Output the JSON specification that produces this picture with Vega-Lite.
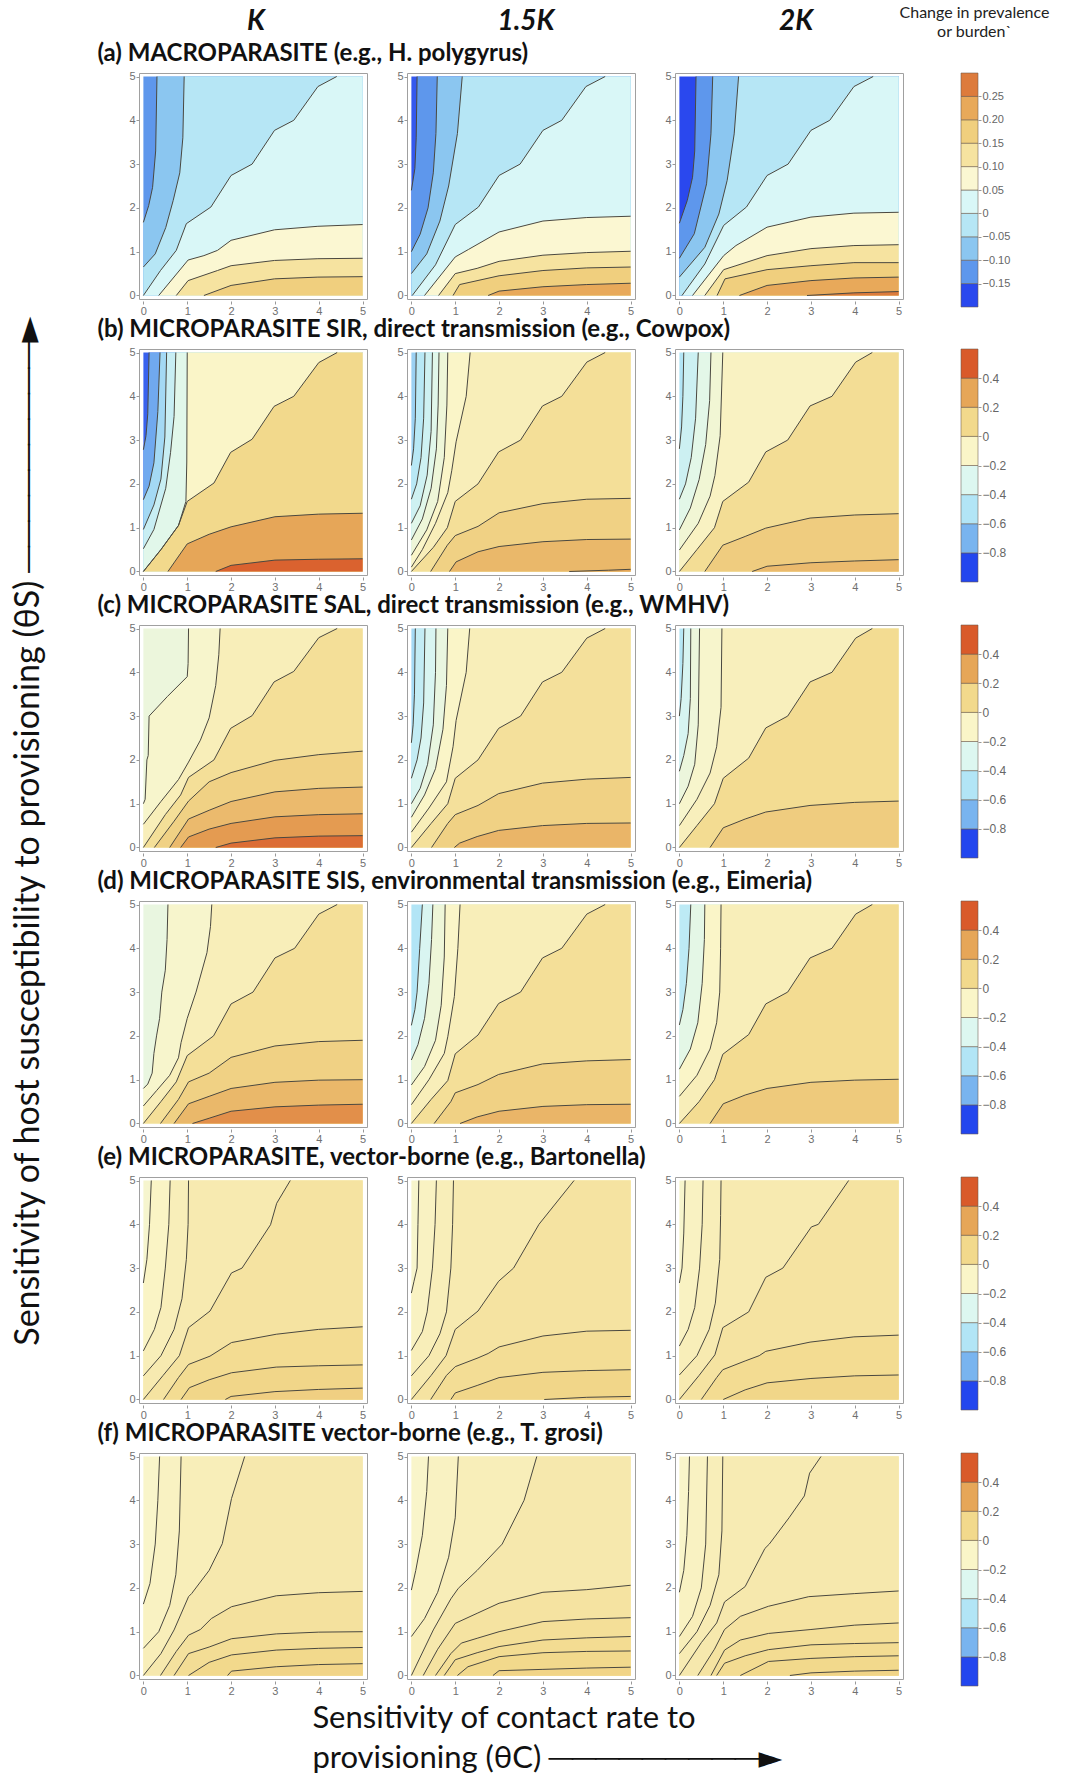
{
"$schema":"https://vega.github.io/schema/vega-lite/v6.json",
"padding":{"left":12,"top":4,"right":0,"bottom":0},
"background":"white",
"config":{
"view":{"stroke":"#a0a0a0","strokeWidth":1},
"font":"Lato",
"title":{"font":"Lato","fontSize":24,"fontWeight":"bold","anchor":"start","color":"#111","offset":0},
"axis":{"domain":false,"grid":false,"tickSize":3,"tickColor":"#999","tickWidth":1,"labelColor":"#707070","labelFont":"Liberation Sans Narrow, Liberation Sans","labelFontSize":11,"labelPadding":1}
},
"datasets":{
"hdr":[{"c":"K"},{"c":"1.5K"},{"c":"2K"}],
"leg":[
{"r":"a","lo":-0.2,"hi":-0.15,"v":-0.175},{"r":"a","lo":-0.15,"hi":-0.1,"v":-0.125},{"r":"a","lo":-0.1,"hi":-0.05,"v":-0.075},{"r":"a","lo":-0.05,"hi":0,"v":-0.025},{"r":"a","lo":0,"hi":0.05,"v":0.025},{"r":"a","lo":0.05,"hi":0.1,"v":0.075},{"r":"a","lo":0.1,"hi":0.15,"v":0.125},{"r":"a","lo":0.15,"hi":0.2,"v":0.175},{"r":"a","lo":0.2,"hi":0.25,"v":0.225},{"r":"a","lo":0.25,"hi":0.3,"v":0.275},
{"r":"b","lo":-1,"hi":-0.8,"v":-0.9},{"r":"b","lo":-0.8,"hi":-0.6,"v":-0.7},{"r":"b","lo":-0.6,"hi":-0.4,"v":-0.5},{"r":"b","lo":-0.4,"hi":-0.2,"v":-0.3},{"r":"b","lo":-0.2,"hi":0,"v":-0.1},{"r":"b","lo":0,"hi":0.2,"v":0.1},{"r":"b","lo":0.2,"hi":0.4,"v":0.3},{"r":"b","lo":0.4,"hi":0.6,"v":0.5}
],
"bands":[
{"i":"a10","r":"a","c":1,"v":-0.125},{"i":"a11","r":"a","c":1,"v":-0.075},{"i":"a12","r":"a","c":1,"v":-0.025},{"i":"a13","r":"a","c":1,"v":0.025},{"i":"a14","r":"a","c":1,"v":0.075},{"i":"a15","r":"a","c":1,"v":0.125},{"i":"a16","r":"a","c":1,"v":0.175},
{"i":"a20","r":"a","c":2,"v":-0.165},{"i":"a21","r":"a","c":2,"v":-0.125},{"i":"a22","r":"a","c":2,"v":-0.075},{"i":"a23","r":"a","c":2,"v":-0.025},{"i":"a24","r":"a","c":2,"v":0.025},{"i":"a25","r":"a","c":2,"v":0.075},{"i":"a26","r":"a","c":2,"v":0.125},{"i":"a27","r":"a","c":2,"v":0.175},{"i":"a28","r":"a","c":2,"v":0.225},
{"i":"a30","r":"a","c":3,"v":-0.175},{"i":"a31","r":"a","c":3,"v":-0.125},{"i":"a32","r":"a","c":3,"v":-0.075},{"i":"a33","r":"a","c":3,"v":-0.025},{"i":"a34","r":"a","c":3,"v":0.025},{"i":"a35","r":"a","c":3,"v":0.075},{"i":"a36","r":"a","c":3,"v":0.125},{"i":"a37","r":"a","c":3,"v":0.175},{"i":"a38","r":"a","c":3,"v":0.225},{"i":"a39","r":"a","c":3,"v":0.275},
{"i":"b10","r":"b","c":1,"v":-0.85},{"i":"b11","r":"b","c":1,"v":-0.72},{"i":"b12","r":"b","c":1,"v":-0.55},{"i":"b13","r":"b","c":1,"v":-0.4},{"i":"b14","r":"b","c":1,"v":-0.27},{"i":"b15","r":"b","c":1,"v":-0.1},{"i":"b16","r":"b","c":1,"v":0.1},{"i":"b17","r":"b","c":1,"v":0.3},{"i":"b18","r":"b","c":1,"v":0.48},
{"i":"b20","r":"b","c":2,"v":-0.58},{"i":"b21","r":"b","c":2,"v":-0.47},{"i":"b22","r":"b","c":2,"v":-0.37},{"i":"b23","r":"b","c":2,"v":-0.27},{"i":"b24","r":"b","c":2,"v":-0.18},{"i":"b25","r":"b","c":2,"v":-0.1},{"i":"b26","r":"b","c":2,"v":-0.05},{"i":"b27","r":"b","c":2,"v":0.06},{"i":"b28","r":"b","c":2,"v":0.13},{"i":"b29","r":"b","c":2,"v":0.23},{"i":"b2A","r":"b","c":2,"v":0.3},
{"i":"b30","r":"b","c":3,"v":-0.5},{"i":"b31","r":"b","c":3,"v":-0.38},{"i":"b32","r":"b","c":3,"v":-0.26},{"i":"b33","r":"b","c":3,"v":-0.16},{"i":"b34","r":"b","c":3,"v":-0.08},{"i":"b35","r":"b","c":3,"v":0.07},{"i":"b36","r":"b","c":3,"v":0.15},{"i":"b37","r":"b","c":3,"v":0.22},
{"i":"c10","r":"c","c":1,"v":-0.2},{"i":"c11","r":"c","c":1,"v":-0.12},{"i":"c12","r":"c","c":1,"v":-0.05},{"i":"c13","r":"c","c":1,"v":0.06},{"i":"c14","r":"c","c":1,"v":0.13},{"i":"c15","r":"c","c":1,"v":0.22},{"i":"c16","r":"c","c":1,"v":0.33},{"i":"c17","r":"c","c":1,"v":0.45},
{"i":"c20","r":"c","c":2,"v":-0.55},{"i":"c21","r":"c","c":2,"v":-0.42},{"i":"c22","r":"c","c":2,"v":-0.32},{"i":"c23","r":"c","c":2,"v":-0.22},{"i":"c24","r":"c","c":2,"v":-0.1},{"i":"c25","r":"c","c":2,"v":-0.05},{"i":"c26","r":"c","c":2,"v":0.05},{"i":"c27","r":"c","c":2,"v":0.13},{"i":"c28","r":"c","c":2,"v":0.24},
{"i":"c30","r":"c","c":3,"v":-0.48},{"i":"c31","r":"c","c":3,"v":-0.33},{"i":"c32","r":"c","c":3,"v":-0.2},{"i":"c33","r":"c","c":3,"v":-0.12},{"i":"c34","r":"c","c":3,"v":-0.06},{"i":"c35","r":"c","c":3,"v":0.08},{"i":"c36","r":"c","c":3,"v":0.15},
{"i":"d10","r":"d","c":1,"v":-0.22},{"i":"d11","r":"d","c":1,"v":-0.12},{"i":"d12","r":"d","c":1,"v":-0.05},{"i":"d13","r":"d","c":1,"v":0.06},{"i":"d14","r":"d","c":1,"v":0.13},{"i":"d15","r":"d","c":1,"v":0.23},{"i":"d16","r":"d","c":1,"v":0.36},
{"i":"d20","r":"d","c":2,"v":-0.5},{"i":"d21","r":"d","c":2,"v":-0.32},{"i":"d22","r":"d","c":2,"v":-0.18},{"i":"d23","r":"d","c":2,"v":-0.1},{"i":"d24","r":"d","c":2,"v":-0.05},{"i":"d25","r":"d","c":2,"v":0.06},{"i":"d26","r":"d","c":2,"v":0.13},{"i":"d27","r":"d","c":2,"v":0.24},
{"i":"d30","r":"d","c":3,"v":-0.45},{"i":"d31","r":"d","c":3,"v":-0.25},{"i":"d32","r":"d","c":3,"v":-0.1},{"i":"d33","r":"d","c":3,"v":-0.05},{"i":"d34","r":"d","c":3,"v":0.08},{"i":"d35","r":"d","c":3,"v":0.16},
{"i":"e10","r":"e","c":1,"v":-0.13},{"i":"e11","r":"e","c":1,"v":-0.09},{"i":"e12","r":"e","c":1,"v":-0.05},{"i":"e13","r":"e","c":1,"v":-0.02},{"i":"e14","r":"e","c":1,"v":0.03},{"i":"e15","r":"e","c":1,"v":0.08},{"i":"e16","r":"e","c":1,"v":0.11},{"i":"e17","r":"e","c":1,"v":0.14},
{"i":"e20","r":"e","c":2,"v":-0.12},{"i":"e21","r":"e","c":2,"v":-0.08},{"i":"e22","r":"e","c":2,"v":-0.05},{"i":"e23","r":"e","c":2,"v":-0.02},{"i":"e24","r":"e","c":2,"v":0.03},{"i":"e25","r":"e","c":2,"v":0.07},{"i":"e26","r":"e","c":2,"v":0.11},{"i":"e27","r":"e","c":2,"v":0.13},
{"i":"e30","r":"e","c":3,"v":-0.12},{"i":"e31","r":"e","c":3,"v":-0.08},{"i":"e32","r":"e","c":3,"v":-0.05},{"i":"e33","r":"e","c":3,"v":-0.02},{"i":"e34","r":"e","c":3,"v":0.03},{"i":"e35","r":"e","c":3,"v":0.08},{"i":"e36","r":"e","c":3,"v":0.11},
{"i":"f10","r":"f","c":1,"v":-0.11},{"i":"f11","r":"f","c":1,"v":-0.08},{"i":"f12","r":"f","c":1,"v":-0.05},{"i":"f13","r":"f","c":1,"v":-0.01},{"i":"f14","r":"f","c":1,"v":0.04},{"i":"f15","r":"f","c":1,"v":0.07},{"i":"f16","r":"f","c":1,"v":0.1},{"i":"f17","r":"f","c":1,"v":0.12},
{"i":"f20","r":"f","c":2,"v":-0.11},{"i":"f21","r":"f","c":2,"v":-0.08},{"i":"f22","r":"f","c":2,"v":-0.05},{"i":"f23","r":"f","c":2,"v":-0.01},{"i":"f24","r":"f","c":2,"v":0.03},{"i":"f25","r":"f","c":2,"v":0.06},{"i":"f26","r":"f","c":2,"v":0.08},{"i":"f27","r":"f","c":2,"v":0.1},{"i":"f28","r":"f","c":2,"v":0.12},
{"i":"f30","r":"f","c":3,"v":-0.11},{"i":"f31","r":"f","c":3,"v":-0.08},{"i":"f32","r":"f","c":3,"v":-0.05},{"i":"f33","r":"f","c":3,"v":-0.03},{"i":"f34","r":"f","c":3,"v":-0.01},{"i":"f35","r":"f","c":3,"v":0.03},{"i":"f36","r":"f","c":3,"v":0.06},{"i":"f37","r":"f","c":3,"v":0.08},{"i":"f38","r":"f","c":3,"v":0.1},{"i":"f39","r":"f","c":3,"v":0.12}
],
"pts":[
{"i":"a10","x":0,"y":5},{"i":"a10","x":5,"y":5},
{"i":"a11","x":0,"y":1.67},{"i":"a11","x":0.12,"y":2.05},{"i":"a11","x":0.21,"y":2.47},{"i":"a11","x":0.28,"y":3.3},{"i":"a11","x":0.31,"y":5},{"i":"a11","x":5,"y":5},
{"i":"a12","x":0,"y":0.65},{"i":"a12","x":0.27,"y":0.95},{"i":"a12","x":0.51,"y":1.55},{"i":"a12","x":0.68,"y":2.17},{"i":"a12","x":0.83,"y":2.8},{"i":"a12","x":0.9,"y":3.6},{"i":"a12","x":0.93,"y":5},{"i":"a12","x":5,"y":5},
{"i":"a13","x":0,"y":0},{"i":"a13","x":0.39,"y":0.57},{"i":"a13","x":0.75,"y":1.03},{"i":"a13","x":0.98,"y":1.64},{"i":"a13","x":1.54,"y":2.02},{"i":"a13","x":2,"y":2.74},{"i":"a13","x":2.48,"y":3},{"i":"a13","x":2.99,"y":3.77},{"i":"a13","x":3.43,"y":4},{"i":"a13","x":3.98,"y":4.77},{"i":"a13","x":4.41,"y":5},{"i":"a13","x":5,"y":5},
{"i":"a14","x":0.35,"y":0},{"i":"a14","x":1.02,"y":0.81},{"i":"a14","x":1.38,"y":0.91},{"i":"a14","x":1.69,"y":1.03},{"i":"a14","x":2,"y":1.26},{"i":"a14","x":2.99,"y":1.5},{"i":"a14","x":3.98,"y":1.58},{"i":"a14","x":5,"y":1.62},
{"i":"a15","x":0.75,"y":0},{"i":"a15","x":1.02,"y":0.34},{"i":"a15","x":1.69,"y":0.57},{"i":"a15","x":2,"y":0.68},{"i":"a15","x":2.99,"y":0.8},{"i":"a15","x":3.98,"y":0.84},{"i":"a15","x":5,"y":0.85},
{"i":"a16","x":1.38,"y":0},{"i":"a16","x":2,"y":0.23},{"i":"a16","x":2.99,"y":0.38},{"i":"a16","x":3.98,"y":0.42},{"i":"a16","x":5,"y":0.43},
{"i":"a20","x":0,"y":5},{"i":"a20","x":5,"y":5},
{"i":"a21","x":0,"y":2.4},{"i":"a21","x":0.08,"y":2.9},{"i":"a21","x":0.11,"y":3.6},{"i":"a21","x":0.13,"y":5},{"i":"a21","x":5,"y":5},
{"i":"a22","x":0,"y":1},{"i":"a22","x":0.2,"y":1.4},{"i":"a22","x":0.38,"y":2},{"i":"a22","x":0.5,"y":2.8},{"i":"a22","x":0.56,"y":3.7},{"i":"a22","x":0.59,"y":5},{"i":"a22","x":5,"y":5},
{"i":"a23","x":0,"y":0.5},{"i":"a23","x":0.35,"y":0.95},{"i":"a23","x":0.65,"y":1.7},{"i":"a23","x":0.85,"y":2.5},{"i":"a23","x":1.05,"y":3.7},{"i":"a23","x":1.16,"y":5},{"i":"a23","x":5,"y":5},
{"i":"a24","x":0.02,"y":0},{"i":"a24","x":0.55,"y":0.7},{"i":"a24","x":1,"y":1.62},{"i":"a24","x":1.53,"y":2.02},{"i":"a24","x":2,"y":2.74},{"i":"a24","x":2.48,"y":3},{"i":"a24","x":3,"y":3.77},{"i":"a24","x":3.43,"y":4},{"i":"a24","x":3.98,"y":4.77},{"i":"a24","x":4.42,"y":5},{"i":"a24","x":5,"y":5},
{"i":"a25","x":0.3,"y":0},{"i":"a25","x":1,"y":0.88},{"i":"a25","x":1.3,"y":1.05},{"i":"a25","x":2,"y":1.45},{"i":"a25","x":3,"y":1.7},{"i":"a25","x":4,"y":1.78},{"i":"a25","x":5,"y":1.81},
{"i":"a26","x":0.62,"y":0},{"i":"a26","x":1,"y":0.5},{"i":"a26","x":1.5,"y":0.62},{"i":"a26","x":2,"y":0.78},{"i":"a26","x":3,"y":0.92},{"i":"a26","x":4,"y":0.98},{"i":"a26","x":5,"y":1.01},
{"i":"a27","x":0.95,"y":0},{"i":"a27","x":1.1,"y":0.25},{"i":"a27","x":2,"y":0.45},{"i":"a27","x":3,"y":0.57},{"i":"a27","x":4,"y":0.63},{"i":"a27","x":5,"y":0.65},
{"i":"a28","x":1.75,"y":0},{"i":"a28","x":2,"y":0.1},{"i":"a28","x":3,"y":0.2},{"i":"a28","x":4,"y":0.25},{"i":"a28","x":5,"y":0.28},
{"i":"a30","x":0,"y":5},{"i":"a30","x":5,"y":5},
{"i":"a31","x":0,"y":1.65},{"i":"a31","x":0.18,"y":2.17},{"i":"a31","x":0.3,"y":2.7},{"i":"a31","x":0.35,"y":3.3},{"i":"a31","x":0.38,"y":5},{"i":"a31","x":5,"y":5},
{"i":"a32","x":0,"y":0.85},{"i":"a32","x":0.34,"y":1.41},{"i":"a32","x":0.62,"y":2.55},{"i":"a32","x":0.72,"y":3.69},{"i":"a32","x":0.76,"y":5},{"i":"a32","x":5,"y":5},
{"i":"a33","x":0,"y":0.42},{"i":"a33","x":0.58,"y":1.1},{"i":"a33","x":0.9,"y":1.86},{"i":"a33","x":1.09,"y":2.63},{"i":"a33","x":1.25,"y":3.69},{"i":"a33","x":1.35,"y":5},{"i":"a33","x":5,"y":5},
{"i":"a34","x":0.06,"y":0},{"i":"a34","x":0.58,"y":0.72},{"i":"a34","x":1.01,"y":1.6},{"i":"a34","x":1.53,"y":2.02},{"i":"a34","x":2,"y":2.74},{"i":"a34","x":2.48,"y":3},{"i":"a34","x":3,"y":3.77},{"i":"a34","x":3.43,"y":4},{"i":"a34","x":3.98,"y":4.77},{"i":"a34","x":4.42,"y":5},{"i":"a34","x":5,"y":5},
{"i":"a35","x":0.3,"y":0},{"i":"a35","x":1.01,"y":0.91},{"i":"a35","x":1.29,"y":1.14},{"i":"a35","x":2,"y":1.56},{"i":"a35","x":3,"y":1.79},{"i":"a35","x":3.98,"y":1.88},{"i":"a35","x":5,"y":1.9},
{"i":"a36","x":0.58,"y":0},{"i":"a36","x":1.01,"y":0.59},{"i":"a36","x":1.29,"y":0.68},{"i":"a36","x":2,"y":0.91},{"i":"a36","x":3,"y":1.07},{"i":"a36","x":3.98,"y":1.14},{"i":"a36","x":5,"y":1.16},
{"i":"a37","x":0.86,"y":0},{"i":"a37","x":1.04,"y":0.38},{"i":"a37","x":2,"y":0.59},{"i":"a37","x":3,"y":0.68},{"i":"a37","x":3.98,"y":0.75},{"i":"a37","x":5,"y":0.75},
{"i":"a38","x":1.37,"y":0},{"i":"a38","x":2,"y":0.23},{"i":"a38","x":3,"y":0.34},{"i":"a38","x":3.98,"y":0.4},{"i":"a38","x":5,"y":0.42},
{"i":"a39","x":2.91,"y":0},{"i":"a39","x":3.98,"y":0.06},{"i":"a39","x":5,"y":0.09},
{"i":"b10","x":0,"y":5},{"i":"b10","x":5,"y":5},
{"i":"b11","x":0,"y":2.78},{"i":"b11","x":0.06,"y":3.1},{"i":"b11","x":0.1,"y":3.6},{"i":"b11","x":0.13,"y":5},{"i":"b11","x":5,"y":5},
{"i":"b12","x":0,"y":1.64},{"i":"b12","x":0.13,"y":1.95},{"i":"b12","x":0.24,"y":2.48},{"i":"b12","x":0.33,"y":3.65},{"i":"b12","x":0.38,"y":5},{"i":"b12","x":5,"y":5},
{"i":"b13","x":0,"y":0.96},{"i":"b13","x":0.24,"y":1.52},{"i":"b13","x":0.4,"y":2.11},{"i":"b13","x":0.49,"y":3.07},{"i":"b13","x":0.53,"y":5},{"i":"b13","x":5,"y":5},
{"i":"b14","x":0,"y":0.52},{"i":"b14","x":0.24,"y":0.96},{"i":"b14","x":0.51,"y":1.9},{"i":"b14","x":0.62,"y":2.72},{"i":"b14","x":0.7,"y":3.54},{"i":"b14","x":0.74,"y":5},{"i":"b14","x":5,"y":5},
{"i":"b15","x":0,"y":0},{"i":"b15","x":0.4,"y":0.5},{"i":"b15","x":0.8,"y":1.05},{"i":"b15","x":0.97,"y":1.6},{"i":"b15","x":0.99,"y":2.5},{"i":"b15","x":1,"y":5},{"i":"b15","x":5,"y":5},
{"i":"b16","x":0,"y":0},{"i":"b16","x":0.4,"y":0.5},{"i":"b16","x":0.8,"y":1.05},{"i":"b16","x":1,"y":1.6},{"i":"b16","x":1.61,"y":2.02},{"i":"b16","x":1.99,"y":2.72},{"i":"b16","x":2.48,"y":3.02},{"i":"b16","x":2.98,"y":3.77},{"i":"b16","x":3.43,"y":4},{"i":"b16","x":4,"y":4.77},{"i":"b16","x":4.42,"y":5},{"i":"b16","x":5,"y":5},
{"i":"b17","x":0.56,"y":0},{"i":"b17","x":1,"y":0.63},{"i":"b17","x":1.5,"y":0.85},{"i":"b17","x":2,"y":1.02},{"i":"b17","x":3,"y":1.25},{"i":"b17","x":4,"y":1.31},{"i":"b17","x":5,"y":1.33},
{"i":"b18","x":1.65,"y":0},{"i":"b18","x":2,"y":0.14},{"i":"b18","x":3,"y":0.26},{"i":"b18","x":4,"y":0.28},{"i":"b18","x":5,"y":0.29},
{"i":"b20","x":0,"y":5},{"i":"b20","x":5,"y":5},
{"i":"b21","x":0,"y":2.42},{"i":"b21","x":0.05,"y":2.8},{"i":"b21","x":0.09,"y":3.5},{"i":"b21","x":0.11,"y":5},{"i":"b21","x":5,"y":5},
{"i":"b22","x":0,"y":1.65},{"i":"b22","x":0.12,"y":2},{"i":"b22","x":0.22,"y":2.6},{"i":"b22","x":0.28,"y":3.5},{"i":"b22","x":0.31,"y":5},{"i":"b22","x":5,"y":5},
{"i":"b23","x":0,"y":1.1},{"i":"b23","x":0.2,"y":1.5},{"i":"b23","x":0.36,"y":2.2},{"i":"b23","x":0.45,"y":3.2},{"i":"b23","x":0.48,"y":5},{"i":"b23","x":5,"y":5},
{"i":"b24","x":0,"y":0.72},{"i":"b24","x":0.25,"y":1.2},{"i":"b24","x":0.45,"y":1.9},{"i":"b24","x":0.57,"y":2.8},{"i":"b24","x":0.61,"y":3.8},{"i":"b24","x":0.63,"y":5},{"i":"b24","x":5,"y":5},
{"i":"b25","x":0,"y":0.37},{"i":"b25","x":0.35,"y":0.95},{"i":"b25","x":0.6,"y":1.6},{"i":"b25","x":0.75,"y":2.6},{"i":"b25","x":0.81,"y":3.8},{"i":"b25","x":0.83,"y":5},{"i":"b25","x":5,"y":5},
{"i":"b26","x":0,"y":0.1},{"i":"b26","x":0.25,"y":0.5},{"i":"b26","x":0.55,"y":1.1},{"i":"b26","x":0.83,"y":1.8},{"i":"b26","x":0.92,"y":2.3},{"i":"b26","x":1.02,"y":2.96},{"i":"b26","x":1.25,"y":4},{"i":"b26","x":1.34,"y":5},{"i":"b26","x":5,"y":5},
{"i":"b27","x":0,"y":0},{"i":"b27","x":0.5,"y":0.55},{"i":"b27","x":0.82,"y":1},{"i":"b27","x":1,"y":1.6},{"i":"b27","x":1.52,"y":2},{"i":"b27","x":1.99,"y":2.73},{"i":"b27","x":2.49,"y":3},{"i":"b27","x":2.99,"y":3.78},{"i":"b27","x":3.43,"y":4},{"i":"b27","x":4,"y":4.78},{"i":"b27","x":4.42,"y":5},{"i":"b27","x":5,"y":5},
{"i":"b28","x":0.44,"y":0},{"i":"b28","x":0.82,"y":0.6},{"i":"b28","x":1,"y":0.82},{"i":"b28","x":1.52,"y":1.03},{"i":"b28","x":2,"y":1.34},{"i":"b28","x":3,"y":1.55},{"i":"b28","x":4,"y":1.65},{"i":"b28","x":5,"y":1.67},
{"i":"b29","x":0.87,"y":0},{"i":"b29","x":1.02,"y":0.22},{"i":"b29","x":1.52,"y":0.45},{"i":"b29","x":2,"y":0.57},{"i":"b29","x":3,"y":0.68},{"i":"b29","x":4,"y":0.73},{"i":"b29","x":5,"y":0.74},
{"i":"b2A","x":3.6,"y":0},{"i":"b2A","x":4.5,"y":0.03},{"i":"b2A","x":5,"y":0.05},
{"i":"b30","x":0,"y":5},{"i":"b30","x":5,"y":5},
{"i":"b31","x":0,"y":2.8},{"i":"b31","x":0.05,"y":3.3},{"i":"b31","x":0.08,"y":4},{"i":"b31","x":0.1,"y":5},{"i":"b31","x":5,"y":5},
{"i":"b32","x":0,"y":1.65},{"i":"b32","x":0.14,"y":2},{"i":"b32","x":0.27,"y":2.6},{"i":"b32","x":0.37,"y":3.5},{"i":"b32","x":0.43,"y":5},{"i":"b32","x":5,"y":5},
{"i":"b33","x":0,"y":0.95},{"i":"b33","x":0.25,"y":1.45},{"i":"b33","x":0.45,"y":2.1},{"i":"b33","x":0.6,"y":2.9},{"i":"b33","x":0.69,"y":3.9},{"i":"b33","x":0.72,"y":5},{"i":"b33","x":5,"y":5},
{"i":"b34","x":0,"y":0.49},{"i":"b34","x":0.43,"y":1.1},{"i":"b34","x":0.7,"y":1.72},{"i":"b34","x":0.81,"y":2.19},{"i":"b34","x":0.93,"y":3.1},{"i":"b34","x":0.99,"y":5},{"i":"b34","x":5,"y":5},
{"i":"b35","x":0,"y":0},{"i":"b35","x":0.4,"y":0.5},{"i":"b35","x":0.8,"y":1},{"i":"b35","x":0.99,"y":1.6},{"i":"b35","x":1.58,"y":2.04},{"i":"b35","x":1.97,"y":2.73},{"i":"b35","x":2.47,"y":3},{"i":"b35","x":2.98,"y":3.78},{"i":"b35","x":3.48,"y":4},{"i":"b35","x":4.02,"y":4.78},{"i":"b35","x":4.4,"y":5},{"i":"b35","x":5,"y":5},
{"i":"b36","x":0.58,"y":0},{"i":"b36","x":0.99,"y":0.6},{"i":"b36","x":1.5,"y":0.8},{"i":"b36","x":1.97,"y":0.99},{"i":"b36","x":2.98,"y":1.22},{"i":"b36","x":4,"y":1.29},{"i":"b36","x":5,"y":1.32},
{"i":"b37","x":1.66,"y":0},{"i":"b37","x":2,"y":0.12},{"i":"b37","x":3,"y":0.2},{"i":"b37","x":4,"y":0.24},{"i":"b37","x":5,"y":0.27},
{"i":"c10","x":0,"y":5},{"i":"c10","x":5,"y":5},
{"i":"c11","x":0,"y":1},{"i":"c11","x":0.04,"y":1.1},{"i":"c11","x":0.08,"y":2},{"i":"c11","x":0.11,"y":2.1},{"i":"c11","x":0.13,"y":3},{"i":"c11","x":0.55,"y":3.45},{"i":"c11","x":1,"y":3.9},{"i":"c11","x":1.02,"y":4.2},{"i":"c11","x":1.03,"y":5},{"i":"c11","x":5,"y":5},
{"i":"c12","x":0,"y":0.53},{"i":"c12","x":0.4,"y":1.05},{"i":"c12","x":0.8,"y":1.55},{"i":"c12","x":1.03,"y":1.95},{"i":"c12","x":1.3,"y":2.45},{"i":"c12","x":1.5,"y":2.96},{"i":"c12","x":1.65,"y":3.7},{"i":"c12","x":1.72,"y":4.4},{"i":"c12","x":1.75,"y":5},{"i":"c12","x":5,"y":5},
{"i":"c13","x":0,"y":0},{"i":"c13","x":0.5,"y":0.75},{"i":"c13","x":0.85,"y":1.2},{"i":"c13","x":1.03,"y":1.6},{"i":"c13","x":1.61,"y":2},{"i":"c13","x":1.99,"y":2.72},{"i":"c13","x":2.48,"y":3.01},{"i":"c13","x":2.98,"y":3.78},{"i":"c13","x":3.43,"y":4.02},{"i":"c13","x":4,"y":4.79},{"i":"c13","x":4.42,"y":5},{"i":"c13","x":5,"y":5},
{"i":"c14","x":0.25,"y":0},{"i":"c14","x":0.7,"y":0.6},{"i":"c14","x":1.03,"y":1.06},{"i":"c14","x":1.5,"y":1.5},{"i":"c14","x":2,"y":1.71},{"i":"c14","x":3,"y":1.99},{"i":"c14","x":4,"y":2.12},{"i":"c14","x":5,"y":2.2},
{"i":"c15","x":0.6,"y":0},{"i":"c15","x":1.03,"y":0.65},{"i":"c15","x":1.5,"y":0.85},{"i":"c15","x":2,"y":1.05},{"i":"c15","x":3,"y":1.27},{"i":"c15","x":4,"y":1.35},{"i":"c15","x":5,"y":1.38},
{"i":"c16","x":0.85,"y":0},{"i":"c16","x":1.03,"y":0.24},{"i":"c16","x":1.5,"y":0.42},{"i":"c16","x":2,"y":0.55},{"i":"c16","x":3,"y":0.7},{"i":"c16","x":4,"y":0.75},{"i":"c16","x":5,"y":0.77},
{"i":"c17","x":1.65,"y":0},{"i":"c17","x":2,"y":0.1},{"i":"c17","x":3,"y":0.22},{"i":"c17","x":4,"y":0.26},{"i":"c17","x":5,"y":0.27},
{"i":"c20","x":0,"y":5},{"i":"c20","x":5,"y":5},
{"i":"c21","x":0,"y":2.39},{"i":"c21","x":0.04,"y":2.8},{"i":"c21","x":0.07,"y":3.5},{"i":"c21","x":0.09,"y":5},{"i":"c21","x":5,"y":5},
{"i":"c22","x":0,"y":1.58},{"i":"c22","x":0.13,"y":2},{"i":"c22","x":0.22,"y":2.5},{"i":"c22","x":0.28,"y":3.3},{"i":"c22","x":0.31,"y":5},{"i":"c22","x":5,"y":5},
{"i":"c23","x":0,"y":1},{"i":"c23","x":0.2,"y":1.35},{"i":"c23","x":0.37,"y":1.9},{"i":"c23","x":0.5,"y":2.8},{"i":"c23","x":0.55,"y":4},{"i":"c23","x":0.56,"y":5},{"i":"c23","x":5,"y":5},
{"i":"c24","x":0,"y":0.69},{"i":"c24","x":0.3,"y":1.2},{"i":"c24","x":0.55,"y":1.8},{"i":"c24","x":0.72,"y":2.7},{"i":"c24","x":0.8,"y":3.7},{"i":"c24","x":0.83,"y":5},{"i":"c24","x":5,"y":5},
{"i":"c25","x":0,"y":0.35},{"i":"c25","x":0.4,"y":0.9},{"i":"c25","x":0.8,"y":1.5},{"i":"c25","x":0.95,"y":2.3},{"i":"c25","x":1.02,"y":2.9},{"i":"c25","x":1.25,"y":4},{"i":"c25","x":1.33,"y":5},{"i":"c25","x":5,"y":5},
{"i":"c26","x":0,"y":0},{"i":"c26","x":0.45,"y":0.55},{"i":"c26","x":0.83,"y":1},{"i":"c26","x":1,"y":1.58},{"i":"c26","x":1.52,"y":2},{"i":"c26","x":1.99,"y":2.72},{"i":"c26","x":2.49,"y":3},{"i":"c26","x":2.99,"y":3.78},{"i":"c26","x":3.43,"y":4},{"i":"c26","x":4,"y":4.78},{"i":"c26","x":4.42,"y":5},{"i":"c26","x":5,"y":5},
{"i":"c27","x":0.46,"y":0},{"i":"c27","x":0.83,"y":0.55},{"i":"c27","x":1,"y":0.75},{"i":"c27","x":1.52,"y":0.96},{"i":"c27","x":1.99,"y":1.23},{"i":"c27","x":2.99,"y":1.47},{"i":"c27","x":4,"y":1.56},{"i":"c27","x":5,"y":1.6},
{"i":"c28","x":0.98,"y":0},{"i":"c28","x":1.1,"y":0.1},{"i":"c28","x":1.5,"y":0.25},{"i":"c28","x":1.99,"y":0.39},{"i":"c28","x":2.99,"y":0.5},{"i":"c28","x":4,"y":0.55},{"i":"c28","x":5,"y":0.56},
{"i":"c30","x":0,"y":5},{"i":"c30","x":5,"y":5},
{"i":"c31","x":0,"y":3},{"i":"c31","x":0.04,"y":3.4},{"i":"c31","x":0.08,"y":4.2},{"i":"c31","x":0.1,"y":5},{"i":"c31","x":5,"y":5},
{"i":"c32","x":0,"y":1.74},{"i":"c32","x":0.1,"y":2.1},{"i":"c32","x":0.2,"y":2.6},{"i":"c32","x":0.25,"y":3.4},{"i":"c32","x":0.26,"y":5},{"i":"c32","x":5,"y":5},
{"i":"c33","x":0,"y":1},{"i":"c33","x":0.2,"y":1.4},{"i":"c33","x":0.35,"y":1.9},{"i":"c33","x":0.43,"y":2.8},{"i":"c33","x":0.46,"y":5},{"i":"c33","x":5,"y":5},
{"i":"c34","x":0,"y":0.5},{"i":"c34","x":0.4,"y":1.1},{"i":"c34","x":0.7,"y":1.7},{"i":"c34","x":0.85,"y":2.3},{"i":"c34","x":0.95,"y":3.2},{"i":"c34","x":0.97,"y":5},{"i":"c34","x":5,"y":5},
{"i":"c35","x":0,"y":0},{"i":"c35","x":0.4,"y":0.5},{"i":"c35","x":0.8,"y":1},{"i":"c35","x":1,"y":1.58},{"i":"c35","x":1.58,"y":2.04},{"i":"c35","x":1.97,"y":2.73},{"i":"c35","x":2.47,"y":3},{"i":"c35","x":2.98,"y":3.78},{"i":"c35","x":3.48,"y":4},{"i":"c35","x":4.02,"y":4.78},{"i":"c35","x":4.4,"y":5},{"i":"c35","x":5,"y":5},
{"i":"c36","x":0.7,"y":0},{"i":"c36","x":1,"y":0.45},{"i":"c36","x":1.5,"y":0.65},{"i":"c36","x":1.97,"y":0.81},{"i":"c36","x":2.98,"y":0.96},{"i":"c36","x":4,"y":1.03},{"i":"c36","x":5,"y":1.06},
{"i":"d10","x":0,"y":5},{"i":"d10","x":5,"y":5},
{"i":"d11","x":0,"y":0.8},{"i":"d11","x":0.1,"y":0.9},{"i":"d11","x":0.2,"y":1.15},{"i":"d11","x":0.24,"y":1.6},{"i":"d11","x":0.3,"y":2},{"i":"d11","x":0.37,"y":2.4},{"i":"d11","x":0.42,"y":3},{"i":"d11","x":0.5,"y":3.5},{"i":"d11","x":0.54,"y":4.2},{"i":"d11","x":0.56,"y":5},{"i":"d11","x":5,"y":5},
{"i":"d12","x":0,"y":0.4},{"i":"d12","x":0.3,"y":0.75},{"i":"d12","x":0.6,"y":1.1},{"i":"d12","x":0.8,"y":1.5},{"i":"d12","x":0.86,"y":1.85},{"i":"d12","x":1,"y":2.4},{"i":"d12","x":1.2,"y":3},{"i":"d12","x":1.45,"y":3.9},{"i":"d12","x":1.53,"y":4.5},{"i":"d12","x":1.56,"y":5},{"i":"d12","x":5,"y":5},
{"i":"d13","x":0,"y":0},{"i":"d13","x":0.4,"y":0.5},{"i":"d13","x":0.75,"y":0.95},{"i":"d13","x":1,"y":1.55},{"i":"d13","x":1.6,"y":2},{"i":"d13","x":2,"y":2.73},{"i":"d13","x":2.5,"y":3},{"i":"d13","x":3,"y":3.78},{"i":"d13","x":3.45,"y":4},{"i":"d13","x":4,"y":4.78},{"i":"d13","x":4.42,"y":5},{"i":"d13","x":5,"y":5},
{"i":"d14","x":0.39,"y":0},{"i":"d14","x":0.8,"y":0.55},{"i":"d14","x":1.03,"y":0.95},{"i":"d14","x":1.5,"y":1.15},{"i":"d14","x":2,"y":1.51},{"i":"d14","x":3,"y":1.77},{"i":"d14","x":4,"y":1.87},{"i":"d14","x":5,"y":1.9},
{"i":"d15","x":0.7,"y":0},{"i":"d15","x":1.03,"y":0.45},{"i":"d15","x":1.5,"y":0.62},{"i":"d15","x":2,"y":0.8},{"i":"d15","x":3,"y":0.94},{"i":"d15","x":4,"y":0.99},{"i":"d15","x":5,"y":1},
{"i":"d16","x":1.12,"y":0},{"i":"d16","x":1.5,"y":0.12},{"i":"d16","x":2,"y":0.28},{"i":"d16","x":3,"y":0.38},{"i":"d16","x":4,"y":0.42},{"i":"d16","x":5,"y":0.44},
{"i":"d20","x":0,"y":5},{"i":"d20","x":5,"y":5},
{"i":"d21","x":0,"y":2.24},{"i":"d21","x":0.08,"y":2.6},{"i":"d21","x":0.13,"y":3},{"i":"d21","x":0.19,"y":4},{"i":"d21","x":0.25,"y":5},{"i":"d21","x":5,"y":5},
{"i":"d22","x":0,"y":1.45},{"i":"d22","x":0.15,"y":1.8},{"i":"d22","x":0.3,"y":2.4},{"i":"d22","x":0.4,"y":3.2},{"i":"d22","x":0.46,"y":4.2},{"i":"d22","x":0.49,"y":5},{"i":"d22","x":5,"y":5},
{"i":"d23","x":0,"y":0.88},{"i":"d23","x":0.3,"y":1.3},{"i":"d23","x":0.55,"y":1.9},{"i":"d23","x":0.68,"y":2.7},{"i":"d23","x":0.75,"y":3.8},{"i":"d23","x":0.77,"y":5},{"i":"d23","x":5,"y":5},
{"i":"d24","x":0,"y":0.43},{"i":"d24","x":0.4,"y":1},{"i":"d24","x":0.75,"y":1.6},{"i":"d24","x":0.83,"y":1.98},{"i":"d24","x":0.98,"y":2.9},{"i":"d24","x":1.06,"y":4},{"i":"d24","x":1.11,"y":5},{"i":"d24","x":5,"y":5},
{"i":"d25","x":0,"y":0},{"i":"d25","x":0.45,"y":0.55},{"i":"d25","x":0.83,"y":0.98},{"i":"d25","x":1,"y":1.59},{"i":"d25","x":1.52,"y":2.02},{"i":"d25","x":1.99,"y":2.74},{"i":"d25","x":2.49,"y":3},{"i":"d25","x":2.99,"y":3.78},{"i":"d25","x":3.43,"y":4},{"i":"d25","x":4,"y":4.78},{"i":"d25","x":4.42,"y":5},{"i":"d25","x":5,"y":5},
{"i":"d26","x":0.52,"y":0},{"i":"d26","x":0.9,"y":0.5},{"i":"d26","x":1,"y":0.7},{"i":"d26","x":1.52,"y":0.89},{"i":"d26","x":1.99,"y":1.12},{"i":"d26","x":2.99,"y":1.36},{"i":"d26","x":4,"y":1.43},{"i":"d26","x":5,"y":1.46},
{"i":"d27","x":1.11,"y":0},{"i":"d27","x":1.5,"y":0.15},{"i":"d27","x":2,"y":0.28},{"i":"d27","x":3,"y":0.39},{"i":"d27","x":4,"y":0.43},{"i":"d27","x":5,"y":0.44},
{"i":"d30","x":0,"y":5},{"i":"d30","x":5,"y":5},
{"i":"d31","x":0,"y":2.25},{"i":"d31","x":0.08,"y":2.6},{"i":"d31","x":0.16,"y":3.2},{"i":"d31","x":0.22,"y":4},{"i":"d31","x":0.26,"y":5},{"i":"d31","x":5,"y":5},
{"i":"d32","x":0,"y":1.24},{"i":"d32","x":0.25,"y":1.7},{"i":"d32","x":0.42,"y":2.3},{"i":"d32","x":0.52,"y":3.2},{"i":"d32","x":0.57,"y":4.2},{"i":"d32","x":0.58,"y":5},{"i":"d32","x":5,"y":5},
{"i":"d33","x":0,"y":0.62},{"i":"d33","x":0.4,"y":1.1},{"i":"d33","x":0.7,"y":1.7},{"i":"d33","x":0.85,"y":2.3},{"i":"d33","x":0.92,"y":3},{"i":"d33","x":0.94,"y":4},{"i":"d33","x":0.95,"y":5},{"i":"d33","x":5,"y":5},
{"i":"d34","x":0,"y":0},{"i":"d34","x":0.45,"y":0.5},{"i":"d34","x":0.8,"y":1},{"i":"d34","x":0.99,"y":1.58},{"i":"d34","x":1.58,"y":2.03},{"i":"d34","x":1.97,"y":2.73},{"i":"d34","x":2.47,"y":3},{"i":"d34","x":2.98,"y":3.78},{"i":"d34","x":3.48,"y":4},{"i":"d34","x":4.02,"y":4.78},{"i":"d34","x":4.4,"y":5},{"i":"d34","x":5,"y":5},
{"i":"d35","x":0.7,"y":0},{"i":"d35","x":1,"y":0.45},{"i":"d35","x":1.5,"y":0.65},{"i":"d35","x":2,"y":0.8},{"i":"d35","x":3,"y":0.94},{"i":"d35","x":4,"y":0.99},{"i":"d35","x":5,"y":1.01},
{"i":"e10","x":0,"y":5},{"i":"e10","x":5,"y":5},
{"i":"e11","x":0,"y":2.66},{"i":"e11","x":0.08,"y":3.2},{"i":"e11","x":0.14,"y":4},{"i":"e11","x":0.18,"y":5},{"i":"e11","x":5,"y":5},
{"i":"e12","x":0,"y":1.11},{"i":"e12","x":0.25,"y":1.6},{"i":"e12","x":0.4,"y":2.1},{"i":"e12","x":0.5,"y":3},{"i":"e12","x":0.58,"y":4},{"i":"e12","x":0.61,"y":5},{"i":"e12","x":5,"y":5},
{"i":"e13","x":0,"y":0.54},{"i":"e13","x":0.4,"y":1},{"i":"e13","x":0.7,"y":1.6},{"i":"e13","x":0.88,"y":2.3},{"i":"e13","x":0.98,"y":3.2},{"i":"e13","x":1.02,"y":4},{"i":"e13","x":1.03,"y":5},{"i":"e13","x":5,"y":5},
{"i":"e14","x":0,"y":0},{"i":"e14","x":0.45,"y":0.55},{"i":"e14","x":0.82,"y":1},{"i":"e14","x":1.03,"y":1.64},{"i":"e14","x":1.52,"y":2.02},{"i":"e14","x":2.01,"y":2.89},{"i":"e14","x":2.25,"y":3},{"i":"e14","x":2.9,"y":3.99},{"i":"e14","x":3.04,"y":4.48},{"i":"e14","x":3.35,"y":5},{"i":"e14","x":5,"y":5},
{"i":"e15","x":0.46,"y":0},{"i":"e15","x":0.8,"y":0.5},{"i":"e15","x":1.03,"y":0.8},{"i":"e15","x":1.52,"y":0.99},{"i":"e15","x":2.01,"y":1.3},{"i":"e15","x":3.03,"y":1.49},{"i":"e15","x":3.99,"y":1.6},{"i":"e15","x":5,"y":1.66},
{"i":"e16","x":0.86,"y":0},{"i":"e16","x":1.05,"y":0.27},{"i":"e16","x":1.5,"y":0.45},{"i":"e16","x":2.01,"y":0.61},{"i":"e16","x":3.03,"y":0.74},{"i":"e16","x":4,"y":0.77},{"i":"e16","x":5,"y":0.79},
{"i":"e17","x":1.87,"y":0},{"i":"e17","x":2,"y":0.07},{"i":"e17","x":3,"y":0.18},{"i":"e17","x":4,"y":0.23},{"i":"e17","x":5,"y":0.26},
{"i":"e20","x":0,"y":5},{"i":"e20","x":5,"y":5},
{"i":"e21","x":0,"y":2.43},{"i":"e21","x":0.06,"y":2.7},{"i":"e21","x":0.13,"y":3},{"i":"e21","x":0.15,"y":4},{"i":"e21","x":0.17,"y":5},{"i":"e21","x":5,"y":5},
{"i":"e22","x":0,"y":1.12},{"i":"e22","x":0.25,"y":1.55},{"i":"e22","x":0.36,"y":2},{"i":"e22","x":0.48,"y":3},{"i":"e22","x":0.54,"y":4},{"i":"e22","x":0.57,"y":5},{"i":"e22","x":5,"y":5},
{"i":"e23","x":0,"y":0.54},{"i":"e23","x":0.4,"y":1},{"i":"e23","x":0.65,"y":1.5},{"i":"e23","x":0.8,"y":2},{"i":"e23","x":0.9,"y":3},{"i":"e23","x":0.94,"y":4},{"i":"e23","x":0.96,"y":5},{"i":"e23","x":5,"y":5},
{"i":"e24","x":0,"y":0},{"i":"e24","x":0.45,"y":0.55},{"i":"e24","x":0.79,"y":1},{"i":"e24","x":1,"y":1.6},{"i":"e24","x":1.52,"y":2.02},{"i":"e24","x":1.99,"y":2.7},{"i":"e24","x":2.33,"y":3},{"i":"e24","x":2.91,"y":4},{"i":"e24","x":3.71,"y":5},{"i":"e24","x":5,"y":5},
{"i":"e25","x":0.44,"y":0},{"i":"e25","x":0.8,"y":0.55},{"i":"e25","x":1,"y":0.75},{"i":"e25","x":1.52,"y":0.95},{"i":"e25","x":1.75,"y":1.05},{"i":"e25","x":2,"y":1.2},{"i":"e25","x":3,"y":1.45},{"i":"e25","x":4,"y":1.56},{"i":"e25","x":5,"y":1.58},
{"i":"e26","x":0.9,"y":0},{"i":"e26","x":1,"y":0.15},{"i":"e26","x":1.5,"y":0.32},{"i":"e26","x":2,"y":0.5},{"i":"e26","x":3,"y":0.62},{"i":"e26","x":4,"y":0.66},{"i":"e26","x":5,"y":0.68},
{"i":"e27","x":3.03,"y":0},{"i":"e27","x":4,"y":0.05},{"i":"e27","x":5,"y":0.07},
{"i":"e30","x":0,"y":5},{"i":"e30","x":5,"y":5},
{"i":"e31","x":0,"y":2.66},{"i":"e31","x":0.06,"y":3},{"i":"e31","x":0.1,"y":3.8},{"i":"e31","x":0.13,"y":5},{"i":"e31","x":5,"y":5},
{"i":"e32","x":0,"y":1.22},{"i":"e32","x":0.2,"y":1.6},{"i":"e32","x":0.35,"y":2.1},{"i":"e32","x":0.46,"y":3},{"i":"e32","x":0.52,"y":4},{"i":"e32","x":0.54,"y":5},{"i":"e32","x":5,"y":5},
{"i":"e33","x":0,"y":0.56},{"i":"e33","x":0.4,"y":1},{"i":"e33","x":0.68,"y":1.6},{"i":"e33","x":0.82,"y":2.2},{"i":"e33","x":0.92,"y":3.2},{"i":"e33","x":0.94,"y":4.2},{"i":"e33","x":0.95,"y":5},{"i":"e33","x":5,"y":5},
{"i":"e34","x":0,"y":0},{"i":"e34","x":0.45,"y":0.55},{"i":"e34","x":0.81,"y":1.02},{"i":"e34","x":0.99,"y":1.64},{"i":"e34","x":1.58,"y":2},{"i":"e34","x":1.97,"y":2.79},{"i":"e34","x":2.36,"y":3},{"i":"e34","x":3.01,"y":3.94},{"i":"e34","x":3.17,"y":4},{"i":"e34","x":3.86,"y":5},{"i":"e34","x":5,"y":5},
{"i":"e35","x":0.5,"y":0},{"i":"e35","x":0.85,"y":0.5},{"i":"e35","x":0.99,"y":0.68},{"i":"e35","x":1.5,"y":0.88},{"i":"e35","x":1.82,"y":1},{"i":"e35","x":1.97,"y":1.1},{"i":"e35","x":2.98,"y":1.31},{"i":"e35","x":3.98,"y":1.43},{"i":"e35","x":5,"y":1.47},
{"i":"e36","x":1,"y":0},{"i":"e36","x":1.5,"y":0.22},{"i":"e36","x":2,"y":0.38},{"i":"e36","x":3,"y":0.48},{"i":"e36","x":4,"y":0.54},{"i":"e36","x":5,"y":0.56},
{"i":"f10","x":0,"y":5},{"i":"f10","x":5,"y":5},
{"i":"f11","x":0,"y":1.63},{"i":"f11","x":0.15,"y":2.1},{"i":"f11","x":0.27,"y":3},{"i":"f11","x":0.33,"y":4},{"i":"f11","x":0.37,"y":5},{"i":"f11","x":5,"y":5},
{"i":"f12","x":0,"y":0.62},{"i":"f12","x":0.35,"y":1},{"i":"f12","x":0.6,"y":1.6},{"i":"f12","x":0.74,"y":2.3},{"i":"f12","x":0.82,"y":3.3},{"i":"f12","x":0.86,"y":5},{"i":"f12","x":5,"y":5},
{"i":"f13","x":0,"y":0},{"i":"f13","x":0.4,"y":0.5},{"i":"f13","x":0.7,"y":1.04},{"i":"f13","x":1.03,"y":1.8},{"i":"f13","x":1.1,"y":1.87},{"i":"f13","x":1.5,"y":2.4},{"i":"f13","x":1.8,"y":3.01},{"i":"f13","x":2.01,"y":4.04},{"i":"f13","x":2.31,"y":5},{"i":"f13","x":5,"y":5},
{"i":"f14","x":0.39,"y":0},{"i":"f14","x":0.75,"y":0.55},{"i":"f14","x":1.03,"y":0.92},{"i":"f14","x":1.3,"y":1.05},{"i":"f14","x":1.55,"y":1.3},{"i":"f14","x":2.01,"y":1.57},{"i":"f14","x":3.03,"y":1.82},{"i":"f14","x":3.99,"y":1.89},{"i":"f14","x":5,"y":1.92},
{"i":"f15","x":0.7,"y":0},{"i":"f15","x":1.03,"y":0.5},{"i":"f15","x":1.5,"y":0.65},{"i":"f15","x":2.01,"y":0.84},{"i":"f15","x":3.03,"y":0.95},{"i":"f15","x":4,"y":0.99},{"i":"f15","x":5,"y":1},
{"i":"f16","x":1.03,"y":0},{"i":"f16","x":1.5,"y":0.3},{"i":"f16","x":2.01,"y":0.47},{"i":"f16","x":3.03,"y":0.58},{"i":"f16","x":4,"y":0.62},{"i":"f16","x":5,"y":0.64},
{"i":"f17","x":1.92,"y":0},{"i":"f17","x":2.01,"y":0.1},{"i":"f17","x":3.03,"y":0.2},{"i":"f17","x":4,"y":0.25},{"i":"f17","x":5,"y":0.27},
{"i":"f20","x":0,"y":5},{"i":"f20","x":5,"y":5},
{"i":"f21","x":0,"y":1.95},{"i":"f21","x":0.1,"y":2.4},{"i":"f21","x":0.25,"y":3.2},{"i":"f21","x":0.35,"y":4.2},{"i":"f21","x":0.39,"y":5},{"i":"f21","x":5,"y":5},
{"i":"f22","x":0,"y":0.89},{"i":"f22","x":0.3,"y":1.3},{"i":"f22","x":0.6,"y":1.9},{"i":"f22","x":0.85,"y":2.7},{"i":"f22","x":1,"y":3.6},{"i":"f22","x":1.07,"y":5},{"i":"f22","x":5,"y":5},
{"i":"f23","x":0,"y":0},{"i":"f23","x":0.5,"y":1.04},{"i":"f23","x":0.9,"y":1.75},{"i":"f23","x":1.07,"y":1.99},{"i":"f23","x":1.5,"y":2.4},{"i":"f23","x":2.07,"y":3},{"i":"f23","x":2.57,"y":4},{"i":"f23","x":2.86,"y":5},{"i":"f23","x":5,"y":5},
{"i":"f24","x":0.27,"y":0},{"i":"f24","x":0.6,"y":0.6},{"i":"f24","x":1,"y":1.19},{"i":"f24","x":1.5,"y":1.42},{"i":"f24","x":2,"y":1.65},{"i":"f24","x":3,"y":1.9},{"i":"f24","x":4,"y":1.96},{"i":"f24","x":5,"y":2.06},
{"i":"f25","x":0.55,"y":0},{"i":"f25","x":0.9,"y":0.5},{"i":"f25","x":1.14,"y":0.74},{"i":"f25","x":1.5,"y":0.85},{"i":"f25","x":2,"y":1},{"i":"f25","x":3,"y":1.23},{"i":"f25","x":4,"y":1.29},{"i":"f25","x":5,"y":1.32},
{"i":"f26","x":0.75,"y":0},{"i":"f26","x":1,"y":0.36},{"i":"f26","x":1.5,"y":0.52},{"i":"f26","x":2,"y":0.66},{"i":"f26","x":3,"y":0.81},{"i":"f26","x":4,"y":0.86},{"i":"f26","x":5,"y":0.89},
{"i":"f27","x":1.05,"y":0},{"i":"f27","x":1.29,"y":0.2},{"i":"f27","x":2,"y":0.43},{"i":"f27","x":3,"y":0.52},{"i":"f27","x":4,"y":0.55},{"i":"f27","x":5,"y":0.56},
{"i":"f28","x":1.86,"y":0},{"i":"f28","x":2,"y":0.11},{"i":"f28","x":3,"y":0.14},{"i":"f28","x":4,"y":0.17},{"i":"f28","x":5,"y":0.19},
{"i":"f30","x":0,"y":5},{"i":"f30","x":5,"y":5},
{"i":"f31","x":0,"y":1.9},{"i":"f31","x":0.1,"y":2.4},{"i":"f31","x":0.17,"y":3.2},{"i":"f31","x":0.21,"y":4.2},{"i":"f31","x":0.23,"y":5},{"i":"f31","x":5,"y":5},
{"i":"f32","x":0,"y":0.89},{"i":"f32","x":0.3,"y":1.35},{"i":"f32","x":0.5,"y":2},{"i":"f32","x":0.6,"y":3},{"i":"f32","x":0.64,"y":5},{"i":"f32","x":5,"y":5},
{"i":"f33","x":0,"y":0.5},{"i":"f33","x":0.4,"y":1},{"i":"f33","x":0.7,"y":1.6},{"i":"f33","x":0.9,"y":2.3},{"i":"f33","x":0.97,"y":3.3},{"i":"f33","x":0.99,"y":5},{"i":"f33","x":5,"y":5},
{"i":"f34","x":0,"y":0},{"i":"f34","x":0.5,"y":0.75},{"i":"f34","x":0.85,"y":1.2},{"i":"f34","x":1.03,"y":1.68},{"i":"f34","x":1.5,"y":2.03},{"i":"f34","x":1.95,"y":2.9},{"i":"f34","x":2.05,"y":3},{"i":"f34","x":2.5,"y":3.6},{"i":"f34","x":2.85,"y":4.1},{"i":"f34","x":2.97,"y":4.62},{"i":"f34","x":3.23,"y":5},{"i":"f34","x":5,"y":5},
{"i":"f35","x":0.42,"y":0},{"i":"f35","x":0.8,"y":0.6},{"i":"f35","x":1.03,"y":1.05},{"i":"f35","x":1.39,"y":1.35},{"i":"f35","x":2.03,"y":1.58},{"i":"f35","x":2.95,"y":1.8},{"i":"f35","x":4,"y":1.87},{"i":"f35","x":5,"y":1.93},
{"i":"f36","x":0.72,"y":0},{"i":"f36","x":1.03,"y":0.58},{"i":"f36","x":1.39,"y":0.81},{"i":"f36","x":2.03,"y":0.96},{"i":"f36","x":3,"y":1.05},{"i":"f36","x":4,"y":1.15},{"i":"f36","x":5,"y":1.2},
{"i":"f37","x":0.85,"y":0},{"i":"f37","x":1.03,"y":0.28},{"i":"f37","x":1.5,"y":0.45},{"i":"f37","x":2.03,"y":0.59},{"i":"f37","x":3,"y":0.7},{"i":"f37","x":4,"y":0.73},{"i":"f37","x":5,"y":0.75},
{"i":"f38","x":1.39,"y":0},{"i":"f38","x":2.03,"y":0.32},{"i":"f38","x":3,"y":0.39},{"i":"f38","x":4,"y":0.43},{"i":"f38","x":5,"y":0.45},
{"i":"f39","x":2.52,"y":0},{"i":"f39","x":3,"y":0.06},{"i":"f39","x":4,"y":0.1},{"i":"f39","x":5,"y":0.12}
]
},
"title":{"text":["Sensitivity of contact rate to","provisioning (θC)  ─────────►"],"orient":"bottom","anchor":"start","align":"left","dx":300,"font":"Lato, DejaVu Sans","fontSize":31,"fontWeight":"normal","lineHeight":40,"offset":8,"color":"#111"},
"resolve":{"scale":{"fill":"independent"}},
"vconcat":[{
"title":{"text":"Sensitivity of host susceptibility to provisioning (θS)   ─────────►","orient":"left","anchor":"middle","dx":19,"font":"Lato, DejaVu Sans","fontSize":34,"fontWeight":"normal","offset":51,"color":"#111"},
"spacing":2,
"resolve":{"scale":{"fill":"independent"}},
"vconcat":[
{"hconcat":[
{"width":774,"height":35,"view":{"stroke":null},"data":{"name":"hdr"},"mark":{"type":"text","font":"Lato","fontSize":28,"fontWeight":"bold","fontStyle":"italic","baseline":"middle","color":"#111"},"encoding":{"x":{"field":"c","type":"nominal","sort":null,"scale":{"type":"point","padding":0.433},"axis":null},"text":{"field":"c"}}},
{"width":17,"height":1,"view":{"stroke":null},"data":{"values":[{"t":1}]},"mark":{"type":"text","text":["Change in prevalence","or burden`"],"font":"Lato","fontSize":16,"lineHeight":19,"baseline":"top","align":"center","color":"#222"},"encoding":{}}
],"spacing":53,"bounds":"flush"},
{"title":{"text":"(a) MACROPARASITE (e.g., H. polygyrus)","dx":-31},"spacing":56,"hconcat":[
{"data":{"name":"pts"},"transform":[{"lookup":"i","from":{"data":{"name":"bands"},"key":"i","fields":["r","c","v"]}},{"filter":"datum.r==='a'"}],
"facet":{"column":{"field":"c","type":"ordinal","header":null}},"spacing":28,"resolve":{"axis":{"y":"independent"}},
"spec":{"width":228,"height":226,"layer":[
{"mark":{"type":"area","clip":true},"encoding":{"x":{"field":"x","type":"quantitative","scale":{"domain":[-0.1,5.1],"nice":false,"zero":false},"axis":{"values":[0,1,2,3,4,5],"title":null}},"y":{"field":"y","type":"quantitative","stack":null,"scale":{"domain":[-0.08,5.08],"nice":false,"zero":false},"axis":{"values":[0,1,2,3,4,5],"title":null}},"y2":{"datum":0},"fill":{"field":"v","type":"quantitative","scale":{"domain":[-0.175,-0.125,-0.075,-0.025,0.025,0.075,0.125,0.175,0.225,0.275],"range":["#2A48EE","#5E97EC","#8BC6F0","#B6E6F5","#D9F7F7","#FBF7D2","#F6E3A0","#F0CF7E","#E8A95A","#DD7B3C"],"interpolate":"rgb","clamp":true},"legend":null},"detail":{"field":"i"}}},
{"transform":[{"filter":"!(datum.x==5 && datum.y==5)"}],"mark":{"type":"line","stroke":"#4a4840","strokeWidth":1,"clip":true},"encoding":{"x":{"field":"x","type":"quantitative"},"y":{"field":"y","type":"quantitative"},"detail":{"field":"i"}}}
]}},
{"width":17,"height":234,"view":{"stroke":null},"data":{"name":"leg"},"transform":[{"filter":"datum.r==='a'"}],"mark":{"type":"rect","stroke":"#6a5a4a","strokeWidth":1,"strokeOpacity":0.55},"encoding":{"y":{"field":"lo","type":"quantitative","scale":{"domain":[-0.2,0.3],"nice":false,"zero":false},"axis":{"orient":"right","values":[-0.15,-0.1,-0.05,0,0.05,0.1,0.15,0.2,0.25],"title":null,"labelFont":"Liberation Sans","labelFontSize":11,"labelColor":"#666","labelExpr":"datum.value==0?'0':format(datum.value,'.2f')"}},"y2":{"field":"hi"},"fill":{"field":"v","type":"quantitative","scale":{"domain":[-0.175,-0.125,-0.075,-0.025,0.025,0.075,0.125,0.175,0.225,0.275],"range":["#2A48EE","#5E97EC","#8BC6F0","#B6E6F5","#D9F7F7","#FBF7D2","#F6E3A0","#F0CF7E","#E8A95A","#DD7B3C"],"interpolate":"rgb","clamp":true},"legend":null}}}
]},
{"title":{"text":"(b) MICROPARASITE SIR, direct transmission (e.g., Cowpox)","dx":-31},"spacing":56,"hconcat":[
{"data":{"name":"pts"},"transform":[{"lookup":"i","from":{"data":{"name":"bands"},"key":"i","fields":["r","c","v"]}},{"filter":"datum.r==='b'"}],
"facet":{"column":{"field":"c","type":"ordinal","header":null}},"spacing":28,"resolve":{"axis":{"y":"independent"}},
"spec":{"width":228,"height":226,"layer":[
{"mark":{"type":"area","clip":true},"encoding":{"x":{"field":"x","type":"quantitative","scale":{"domain":[-0.1,5.1],"nice":false,"zero":false},"axis":{"values":[0,1,2,3,4,5],"title":null}},"y":{"field":"y","type":"quantitative","stack":null,"scale":{"domain":[-0.08,5.08],"nice":false,"zero":false},"axis":{"values":[0,1,2,3,4,5],"title":null}},"y2":{"datum":0},"fill":{"field":"v","type":"quantitative","scale":{"domain":[-0.9,-0.7,-0.5,-0.3,-0.1,0.1,0.3,0.5],"range":["#2346EE","#79B4EF","#B2E5F6","#DDF7F0","#FAF5C8","#F2D98C","#E6A658","#D95A2A"],"interpolate":"rgb","clamp":true},"legend":null},"detail":{"field":"i"}}},
{"transform":[{"filter":"!(datum.x==5 && datum.y==5)"}],"mark":{"type":"line","stroke":"#4a4840","strokeWidth":1,"clip":true},"encoding":{"x":{"field":"x","type":"quantitative"},"y":{"field":"y","type":"quantitative"},"detail":{"field":"i"}}}
]}},
{"width":17,"height":233,"view":{"stroke":null},"data":{"name":"leg"},"transform":[{"filter":"datum.r==='b'"}],"mark":{"type":"rect","stroke":"#6a5a4a","strokeWidth":1,"strokeOpacity":0.55},"encoding":{"y":{"field":"lo","type":"quantitative","scale":{"domain":[-1,0.6],"nice":false,"zero":false},"axis":{"orient":"right","values":[-0.8,-0.6,-0.4,-0.2,0,0.2,0.4],"title":null,"labelFontSize":12,"labelColor":"#666","labelExpr":"datum.value==0?'0':format(datum.value,'.1f')"}},"y2":{"field":"hi"},"fill":{"field":"v","type":"quantitative","scale":{"domain":[-0.9,-0.7,-0.5,-0.3,-0.1,0.1,0.3,0.5],"range":["#2346EE","#79B4EF","#B2E5F6","#DDF7F0","#FAF5C8","#F2D98C","#E6A658","#D95A2A"],"interpolate":"rgb","clamp":true},"legend":null}}}
]},
{"title":{"text":"(c) MICROPARASITE SAL, direct transmission (e.g., WMHV)","dx":-31},"spacing":56,"hconcat":[
{"data":{"name":"pts"},"transform":[{"lookup":"i","from":{"data":{"name":"bands"},"key":"i","fields":["r","c","v"]}},{"filter":"datum.r==='c'"}],
"facet":{"column":{"field":"c","type":"ordinal","header":null}},"spacing":28,"resolve":{"axis":{"y":"independent"}},
"spec":{"width":228,"height":226,"layer":[
{"mark":{"type":"area","clip":true},"encoding":{"x":{"field":"x","type":"quantitative","scale":{"domain":[-0.1,5.1],"nice":false,"zero":false},"axis":{"values":[0,1,2,3,4,5],"title":null}},"y":{"field":"y","type":"quantitative","stack":null,"scale":{"domain":[-0.08,5.08],"nice":false,"zero":false},"axis":{"values":[0,1,2,3,4,5],"title":null}},"y2":{"datum":0},"fill":{"field":"v","type":"quantitative","scale":{"domain":[-0.9,-0.7,-0.5,-0.3,-0.1,0.1,0.3,0.5],"range":["#2346EE","#79B4EF","#B2E5F6","#DDF7F0","#FAF5C8","#F2D98C","#E6A658","#D95A2A"],"interpolate":"rgb","clamp":true},"legend":null},"detail":{"field":"i"}}},
{"transform":[{"filter":"!(datum.x==5 && datum.y==5)"}],"mark":{"type":"line","stroke":"#4a4840","strokeWidth":1,"clip":true},"encoding":{"x":{"field":"x","type":"quantitative"},"y":{"field":"y","type":"quantitative"},"detail":{"field":"i"}}}
]}},
{"width":17,"height":233,"view":{"stroke":null},"data":{"name":"leg"},"transform":[{"filter":"datum.r==='b'"}],"mark":{"type":"rect","stroke":"#6a5a4a","strokeWidth":1,"strokeOpacity":0.55},"encoding":{"y":{"field":"lo","type":"quantitative","scale":{"domain":[-1,0.6],"nice":false,"zero":false},"axis":{"orient":"right","values":[-0.8,-0.6,-0.4,-0.2,0,0.2,0.4],"title":null,"labelFontSize":12,"labelColor":"#666","labelExpr":"datum.value==0?'0':format(datum.value,'.1f')"}},"y2":{"field":"hi"},"fill":{"field":"v","type":"quantitative","scale":{"domain":[-0.9,-0.7,-0.5,-0.3,-0.1,0.1,0.3,0.5],"range":["#2346EE","#79B4EF","#B2E5F6","#DDF7F0","#FAF5C8","#F2D98C","#E6A658","#D95A2A"],"interpolate":"rgb","clamp":true},"legend":null}}}
]},
{"title":{"text":"(d) MICROPARASITE SIS, environmental transmission (e.g., Eimeria)","dx":-31},"spacing":56,"hconcat":[
{"data":{"name":"pts"},"transform":[{"lookup":"i","from":{"data":{"name":"bands"},"key":"i","fields":["r","c","v"]}},{"filter":"datum.r==='d'"}],
"facet":{"column":{"field":"c","type":"ordinal","header":null}},"spacing":28,"resolve":{"axis":{"y":"independent"}},
"spec":{"width":228,"height":226,"layer":[
{"mark":{"type":"area","clip":true},"encoding":{"x":{"field":"x","type":"quantitative","scale":{"domain":[-0.1,5.1],"nice":false,"zero":false},"axis":{"values":[0,1,2,3,4,5],"title":null}},"y":{"field":"y","type":"quantitative","stack":null,"scale":{"domain":[-0.08,5.08],"nice":false,"zero":false},"axis":{"values":[0,1,2,3,4,5],"title":null}},"y2":{"datum":0},"fill":{"field":"v","type":"quantitative","scale":{"domain":[-0.9,-0.7,-0.5,-0.3,-0.1,0.1,0.3,0.5],"range":["#2346EE","#79B4EF","#B2E5F6","#DDF7F0","#FAF5C8","#F2D98C","#E6A658","#D95A2A"],"interpolate":"rgb","clamp":true},"legend":null},"detail":{"field":"i"}}},
{"transform":[{"filter":"!(datum.x==5 && datum.y==5)"}],"mark":{"type":"line","stroke":"#4a4840","strokeWidth":1,"clip":true},"encoding":{"x":{"field":"x","type":"quantitative"},"y":{"field":"y","type":"quantitative"},"detail":{"field":"i"}}}
]}},
{"width":17,"height":233,"view":{"stroke":null},"data":{"name":"leg"},"transform":[{"filter":"datum.r==='b'"}],"mark":{"type":"rect","stroke":"#6a5a4a","strokeWidth":1,"strokeOpacity":0.55},"encoding":{"y":{"field":"lo","type":"quantitative","scale":{"domain":[-1,0.6],"nice":false,"zero":false},"axis":{"orient":"right","values":[-0.8,-0.6,-0.4,-0.2,0,0.2,0.4],"title":null,"labelFontSize":12,"labelColor":"#666","labelExpr":"datum.value==0?'0':format(datum.value,'.1f')"}},"y2":{"field":"hi"},"fill":{"field":"v","type":"quantitative","scale":{"domain":[-0.9,-0.7,-0.5,-0.3,-0.1,0.1,0.3,0.5],"range":["#2346EE","#79B4EF","#B2E5F6","#DDF7F0","#FAF5C8","#F2D98C","#E6A658","#D95A2A"],"interpolate":"rgb","clamp":true},"legend":null}}}
]},
{"title":{"text":"(e) MICROPARASITE, vector-borne (e.g., Bartonella)","dx":-31},"spacing":56,"hconcat":[
{"data":{"name":"pts"},"transform":[{"lookup":"i","from":{"data":{"name":"bands"},"key":"i","fields":["r","c","v"]}},{"filter":"datum.r==='e'"}],
"facet":{"column":{"field":"c","type":"ordinal","header":null}},"spacing":28,"resolve":{"axis":{"y":"independent"}},
"spec":{"width":228,"height":226,"layer":[
{"mark":{"type":"area","clip":true},"encoding":{"x":{"field":"x","type":"quantitative","scale":{"domain":[-0.1,5.1],"nice":false,"zero":false},"axis":{"values":[0,1,2,3,4,5],"title":null}},"y":{"field":"y","type":"quantitative","stack":null,"scale":{"domain":[-0.08,5.08],"nice":false,"zero":false},"axis":{"values":[0,1,2,3,4,5],"title":null}},"y2":{"datum":0},"fill":{"field":"v","type":"quantitative","scale":{"domain":[-0.9,-0.7,-0.5,-0.3,-0.1,0.1,0.3,0.5],"range":["#2346EE","#79B4EF","#B2E5F6","#DDF7F0","#FAF5C8","#F2D98C","#E6A658","#D95A2A"],"interpolate":"rgb","clamp":true},"legend":null},"detail":{"field":"i"}}},
{"transform":[{"filter":"!(datum.x==5 && datum.y==5)"}],"mark":{"type":"line","stroke":"#4a4840","strokeWidth":1,"clip":true},"encoding":{"x":{"field":"x","type":"quantitative"},"y":{"field":"y","type":"quantitative"},"detail":{"field":"i"}}}
]}},
{"width":17,"height":233,"view":{"stroke":null},"data":{"name":"leg"},"transform":[{"filter":"datum.r==='b'"}],"mark":{"type":"rect","stroke":"#6a5a4a","strokeWidth":1,"strokeOpacity":0.55},"encoding":{"y":{"field":"lo","type":"quantitative","scale":{"domain":[-1,0.6],"nice":false,"zero":false},"axis":{"orient":"right","values":[-0.8,-0.6,-0.4,-0.2,0,0.2,0.4],"title":null,"labelFontSize":12,"labelColor":"#666","labelExpr":"datum.value==0?'0':format(datum.value,'.1f')"}},"y2":{"field":"hi"},"fill":{"field":"v","type":"quantitative","scale":{"domain":[-0.9,-0.7,-0.5,-0.3,-0.1,0.1,0.3,0.5],"range":["#2346EE","#79B4EF","#B2E5F6","#DDF7F0","#FAF5C8","#F2D98C","#E6A658","#D95A2A"],"interpolate":"rgb","clamp":true},"legend":null}}}
]},
{"title":{"text":"(f) MICROPARASITE vector-borne (e.g., T. grosi)","dx":-31},"spacing":56,"hconcat":[
{"data":{"name":"pts"},"transform":[{"lookup":"i","from":{"data":{"name":"bands"},"key":"i","fields":["r","c","v"]}},{"filter":"datum.r==='f'"}],
"facet":{"column":{"field":"c","type":"ordinal","header":null}},"spacing":28,"resolve":{"axis":{"y":"independent"}},
"spec":{"width":228,"height":226,"layer":[
{"mark":{"type":"area","clip":true},"encoding":{"x":{"field":"x","type":"quantitative","scale":{"domain":[-0.1,5.1],"nice":false,"zero":false},"axis":{"values":[0,1,2,3,4,5],"title":null}},"y":{"field":"y","type":"quantitative","stack":null,"scale":{"domain":[-0.08,5.08],"nice":false,"zero":false},"axis":{"values":[0,1,2,3,4,5],"title":null}},"y2":{"datum":0},"fill":{"field":"v","type":"quantitative","scale":{"domain":[-0.9,-0.7,-0.5,-0.3,-0.1,0.1,0.3,0.5],"range":["#2346EE","#79B4EF","#B2E5F6","#DDF7F0","#FAF5C8","#F2D98C","#E6A658","#D95A2A"],"interpolate":"rgb","clamp":true},"legend":null},"detail":{"field":"i"}}},
{"transform":[{"filter":"!(datum.x==5 && datum.y==5)"}],"mark":{"type":"line","stroke":"#4a4840","strokeWidth":1,"clip":true},"encoding":{"x":{"field":"x","type":"quantitative"},"y":{"field":"y","type":"quantitative"},"detail":{"field":"i"}}}
]}},
{"width":17,"height":233,"view":{"stroke":null},"data":{"name":"leg"},"transform":[{"filter":"datum.r==='b'"}],"mark":{"type":"rect","stroke":"#6a5a4a","strokeWidth":1,"strokeOpacity":0.55},"encoding":{"y":{"field":"lo","type":"quantitative","scale":{"domain":[-1,0.6],"nice":false,"zero":false},"axis":{"orient":"right","values":[-0.8,-0.6,-0.4,-0.2,0,0.2,0.4],"title":null,"labelFontSize":12,"labelColor":"#666","labelExpr":"datum.value==0?'0':format(datum.value,'.1f')"}},"y2":{"field":"hi"},"fill":{"field":"v","type":"quantitative","scale":{"domain":[-0.9,-0.7,-0.5,-0.3,-0.1,0.1,0.3,0.5],"range":["#2346EE","#79B4EF","#B2E5F6","#DDF7F0","#FAF5C8","#F2D98C","#E6A658","#D95A2A"],"interpolate":"rgb","clamp":true},"legend":null}}}
]}
]
}]
}
